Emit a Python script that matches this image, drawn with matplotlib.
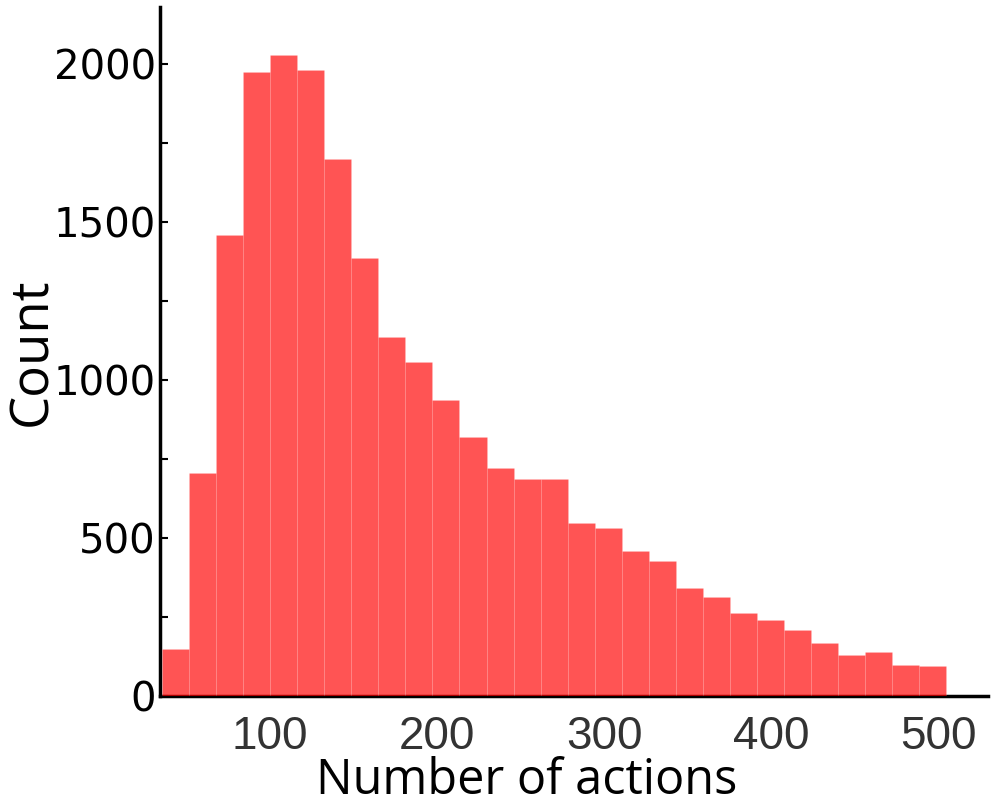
import numpy as np
import matplotlib
matplotlib.use("Agg")
import matplotlib.pyplot as plt
from matplotlib.ticker import MultipleLocator

# Histogram data
bin_start = 35.3
bin_width = 16.19
counts = [148, 706, 1457, 1974, 2028, 1979, 1698, 1385, 1137, 1058,
          936, 819, 722, 685, 685, 546, 531, 459, 427, 343,
          313, 262, 242, 210, 169, 129, 139, 97, 94]
x_ticks = [100, 200, 300, 400, 500]
y_ticks = [0, 500, 1000, 1500, 2000]

edges = bin_start + bin_width * np.arange(len(counts) + 1)
centers = (edges[:-1] + edges[1:]) / 2

fig = plt.figure(figsize=(9.97, 8.08), dpi=100)
ax = fig.add_axes([0.1605, 0.1386, 0.8305, 0.8530])

ax.hist(centers, bins=edges, weights=counts, color=(1, 0, 0, 0.67),
        edgecolor=(1, 1, 1, 0.12), linewidth=0.6, zorder=3)

ax.set_xlim(34, 530)
ax.set_ylim(0, 2180)

for s in ["top", "right"]:
    ax.spines[s].set_visible(False)
for s in ["left", "bottom"]:
    ax.spines[s].set_linewidth(2.5)
    ax.spines[s].set_color("black")

ax.set_xticks(x_ticks)
ax.set_yticks(y_ticks)
ax.yaxis.set_minor_locator(MultipleLocator(250))
ax.tick_params(axis="x", length=0, pad=14, labelsize=33, labelcolor="#333333")
ax.tick_params(axis="y", which="both", direction="in", length=6, width=1.5,
               labelsize=29, labelcolor="black", pad=3)
for lbl in ax.get_xticklabels():
    lbl.set_family("Liberation Sans")
for lbl in ax.get_yticklabels():
    lbl.set_family("DejaVu Sans")

ax.set_xlabel("Number of actions", fontsize=35, family="Open Sans", labelpad=0)
ax.set_ylabel("Count", fontsize=38, family="Open Sans")
ax.xaxis.set_label_coords(0.443, -0.088, transform=ax.transAxes)
ax.xaxis.label.set_va("top")
ax.yaxis.set_label_coords(-0.154, 0.5, transform=ax.transAxes)
ax.yaxis.label.set_va("center")

fig.savefig("out.png", dpi=100)
